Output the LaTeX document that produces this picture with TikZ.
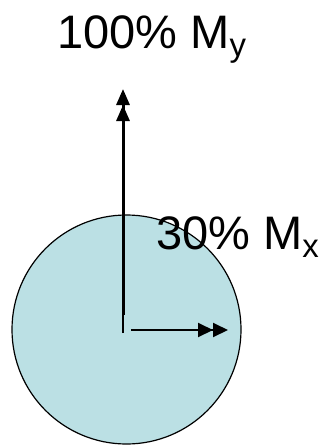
\documentclass[tikz,border=0pt]{standalone}
\usepackage{fontspec}
\setmainfont{Liberation Sans}
\usetikzlibrary{arrows.meta}
\definecolor{secfill}{RGB}{187,224,228}

\begin{document}
\begin{tikzpicture}[x=1pt,y=-1pt,
section/.style={circle,draw,line width=1.2pt,fill=secfill,minimum size=229pt,inner sep=0pt},
label/.style={inner sep=0pt,anchor=base west,font=\fontsize{47}{56}\selectfont},
arrowv/.style={line width=3pt,-{Triangle[length=16pt,width=13pt] Triangle[length=16pt,width=13pt]}},
arrowh/.style={line width=2pt,-{Triangle[length=15pt,width=14pt] Triangle[length=15pt,width=14pt]}}
]
\useasboundingbox (0,0) rectangle (323,445);
\node[section] (sec) at (126.5,329.5) {};
\coordinate (vbase) at (123,315);
\coordinate (vstub) at (123,333);
\coordinate (vtip) at (123,89);
\coordinate (hbase) at (131,330);
\coordinate (htip) at (228,330);
\draw[line width=1.2pt] (vstub) -- (vbase);
\draw[arrowv] (vbase) -- (vtip);
\draw[arrowh] (hbase) -- (htip);
\node[label] (my) at (57,48) {100\% M\textsubscript{y}};
\node[label] (mx) at (156,249) {30\% M\textsubscript{x}};
\end{tikzpicture}
\end{document}
